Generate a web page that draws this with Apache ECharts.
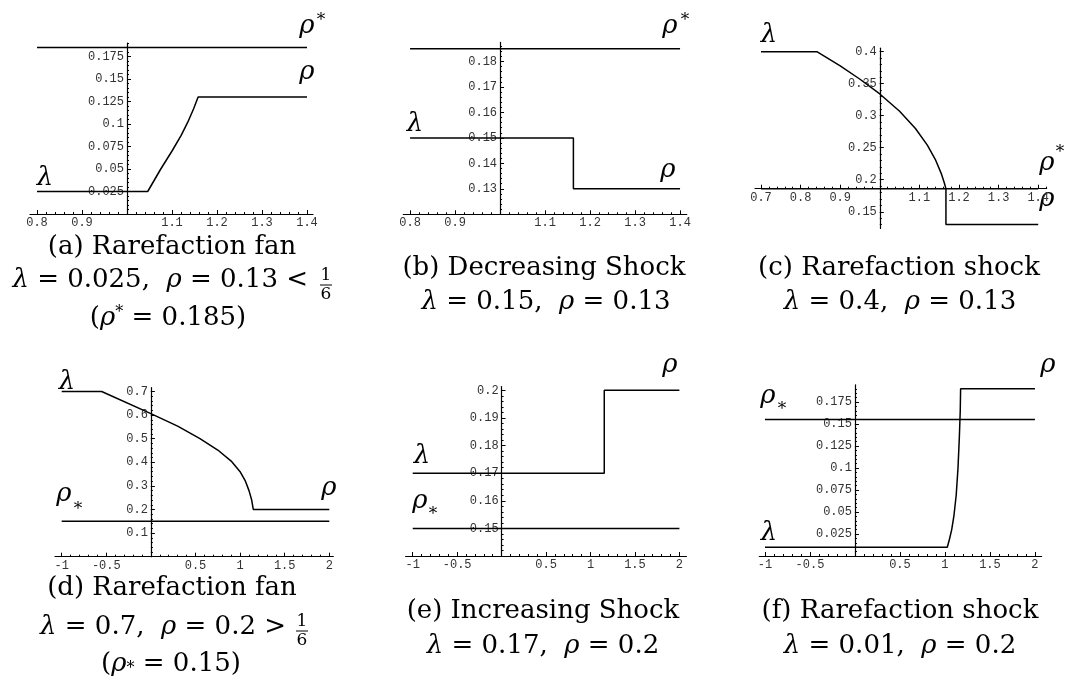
<!DOCTYPE html>
<html lang="en">
<head>
<meta charset="UTF-8">
<title>Riemann problem solutions</title>
<script src="https://cdn.jsdelivr.net/npm/echarts@6.0.0/dist/echarts.min.js"></script>
<style>html,body{margin:0;background:#fff;}</style>
</head>
<body>
<div id="main" style="width:1070px;height:688px;"></div>
<script>
// (a) rarefaction fan
var aX = [0.8, 1.046, 1.075, 1.1, 1.12, 1.135, 1.148, 1.158, 1.4];
var aRho = [0.025, 0.025, 0.05, 0.07, 0.087, 0.102, 0.117, 0.13, 0.13];
var aStarX = [0.8, 1.4];
var aStar = [0.185, 0.185];
var aXTicks = [0.8, 0.9, 1.1, 1.2, 1.3, 1.4];
var aYTicks = [0.025, 0.05, 0.075, 0.1, 0.125, 0.15, 0.175];

// (b) decreasing shock
var bX = [0.8, 1.163, 1.163, 1.4];
var bRho = [0.15, 0.15, 0.13, 0.13];
var bStarX = [0.8, 1.4];
var bStar = [0.185, 0.185];
var bXTicks = [0.8, 0.9, 1.1, 1.2, 1.3, 1.4];
var bYTicks = [0.13, 0.14, 0.15, 0.16, 0.17, 0.18];

// (c) rarefaction shock
var cX = [0.7, 0.841, 0.9, 0.95, 1.0, 1.05, 1.09, 1.12, 1.14, 1.155, 1.163, 1.167, 1.167, 1.4];
var cRho = [0.4, 0.4, 0.378, 0.357, 0.334, 0.307, 0.28, 0.254, 0.232, 0.21, 0.195, 0.186, 0.13, 0.13];
var cStarX = [0.7, 1.4];
var cStar = [0.186, 0.186];
var cXTicks = [0.7, 0.8, 0.9, 1.1, 1.2, 1.3, 1.4];
var cYTicks = [0.15, 0.2, 0.25, 0.3, 0.35, 0.4];

// (d) rarefaction fan
var dX = [-1, -0.552, 0, 0.3, 0.55, 0.75, 0.9, 1.0, 1.06, 1.1, 1.13, 1.148, 2];
var dRho = [0.7, 0.7, 0.606, 0.553, 0.5, 0.452, 0.405, 0.36, 0.32, 0.28, 0.24, 0.2, 0.2];
var dStarX = [-1, 2];
var dStar = [0.15, 0.15];
var dXTicks = [-1, -0.5, 0.5, 1, 1.5, 2];
var dYTicks = [0.1, 0.2, 0.3, 0.4, 0.5, 0.6, 0.7];

// (e) increasing shock
var eX = [-1, 1.155, 1.155, 2];
var eRho = [0.17, 0.17, 0.2, 0.2];
var eStarX = [-1, 2];
var eStar = [0.15, 0.15];
var eXTicks = [-1, -0.5, 0.5, 1, 1.5, 2];
var eYTicks = [0.15, 0.16, 0.17, 0.18, 0.19, 0.2];

// (f) rarefaction shock
var fX = [-1, 1.026, 1.05, 1.075, 1.1, 1.125, 1.145, 1.16, 1.17, 1.174, 2];
var fRho = [0.01, 0.01, 0.019, 0.03, 0.046, 0.069, 0.1, 0.135, 0.165, 0.19, 0.19];
var fStarX = [-1, 2];
var fStar = [0.155, 0.155];
var fXTicks = [-1, -0.5, 0.5, 1, 1.5, 2];
var fYTicks = [0.025, 0.05, 0.075, 0.1, 0.125, 0.15, 0.175];

var panels = [
    {box: {left: 30, top: 43, width: 283, height: 171}, x: [0.7844, 1.4133], y: [0, 0.19], cross: [1, 0],
     xMinor: 0.02, yMinor: 0.005, xT: aXTicks, yT: aYTicks, xs: aX, ys: aRho, sx: aStarX, sy: aStar},
    {box: {left: 403.3, top: 42.4, width: 283.5, height: 171.9}, x: [0.785, 1.415], y: [0.12, 0.1875], cross: [1, 0.12],
     xMinor: 0.02, yMinor: 0.002, xT: bXTicks, yT: bYTicks, xs: bX, ys: bRho, sx: bStarX, sy: bStar},
    {box: {left: 755, top: 48.2, width: 291.6, height: 180.2}, x: [0.6848, 1.4212], y: [0.124, 0.4055], cross: [1, 0.186],
     xMinor: 0.02, yMinor: 0.01, xT: cXTicks, yT: cYTicks, xs: cX, ys: cRho, sx: cStarX, sy: cStar},
    {box: {left: 55, top: 387.7, width: 278.3, height: 169}, x: [-1.075, 2.045], y: [0, 0.716], cross: [0, 0],
     xMinor: 0.1, yMinor: 0.02, xT: dXTicks, yT: dYTicks, xs: dX, ys: dRho, sx: dStarX, sy: dStar},
    {box: {left: 405.6, top: 386.5, width: 280.9, height: 169.5}, x: [-1.08, 2.08], y: [0.14, 0.2014], cross: [0, 0.14],
     xMinor: 0.1, yMinor: 0.002, xT: eXTicks, yT: eYTicks, xs: eX, ys: eRho, sx: eStarX, sy: eStar},
    {box: {left: 759.3, top: 384.8, width: 282.3, height: 171.2}, x: [-1.063, 2.074], y: [0, 0.1945], cross: [0, 0],
     xMinor: 0.1, yMinor: 0.005, xT: fXTicks, yT: fYTicks, xs: fX, ys: fRho, sx: fStarX, sy: fStar}
];

function steps(lo, hi, step) {
    var out = [];
    for (var k = Math.ceil(lo / step - 1e-9); k * step <= hi + 1e-9; k++) {
        out.push(+(k * step).toFixed(6));
    }
    return out;
}

function pairs(xs, ys) {
    return xs.map(function (x, i) { return [x, ys[i]]; });
}

var tickFont = {fontFamily: '"Liberation Mono", monospace', fontSize: 12, color: '#333'};
var grids = [], xAxes = [], yAxes = [], series = [];

panels.forEach(function (p, i) {
    grids.push({left: p.box.left, top: p.box.top, width: p.box.width, height: p.box.height,
                containLabel: false, outerBoundsMode: 'none'});
    // axes cross inside the plot, like Mathematica's default
    var yOff = -(p.cross[0] - p.x[0]) / (p.x[1] - p.x[0]) * p.box.width;
    var xOff = -(p.cross[1] - p.y[0]) / (p.y[1] - p.y[0]) * p.box.height;
    var common = {type: 'value', gridIndex: i, splitLine: {show: false}};
    xAxes.push(Object.assign({}, common, {
        min: p.x[0], max: p.x[1], position: 'bottom', offset: xOff,
        axisLine: {show: true, onZero: false, lineStyle: {color: '#000', width: 1.2}},
        axisTick: {show: true, inside: true, length: 4, customValues: p.xT, lineStyle: {color: '#000'}},
        axisLabel: Object.assign({show: true, margin: 3, customValues: p.xT,
            formatter: function (v) { return String(+v.toFixed(6)); }}, tickFont)
    }));
    xAxes.push(Object.assign({}, common, {
        min: p.x[0], max: p.x[1], position: 'bottom', offset: xOff,
        axisLine: {show: false, onZero: false},
        axisTick: {show: true, inside: true, length: 2, customValues: steps(p.x[0], p.x[1], p.xMinor), lineStyle: {color: '#000'}},
        axisLabel: {show: false}
    }));
    yAxes.push(Object.assign({}, common, {
        min: p.y[0], max: p.y[1], position: 'left', offset: yOff,
        axisLine: {show: true, onZero: false, lineStyle: {color: '#000', width: 1.2}},
        axisTick: {show: true, inside: true, length: 4, customValues: p.yT, lineStyle: {color: '#000'}},
        axisLabel: Object.assign({show: true, margin: 3, customValues: p.yT,
            formatter: function (v) { return String(+v.toFixed(6)); }}, tickFont)
    }));
    yAxes.push(Object.assign({}, common, {
        min: p.y[0], max: p.y[1], position: 'left', offset: yOff,
        axisLine: {show: false, onZero: false},
        axisTick: {show: true, inside: true, length: 2, customValues: steps(p.y[0], p.y[1], p.yMinor), lineStyle: {color: '#000'}},
        axisLabel: {show: false}
    }));
    var line = {type: 'line', xAxisIndex: 2 * i, yAxisIndex: 2 * i, symbol: 'none', silent: true,
                lineStyle: {color: '#000', width: 1.5}};
    series.push(Object.assign({}, line, {data: pairs(p.xs, p.ys)}));
    series.push(Object.assign({}, line, {data: pairs(p.sx, p.sy)}));
});

// greek annotations next to the curves
var greek = 'italic 26px "DejaVu Serif"';
function sym(txt, x, y) {
    return {type: 'text', x: x, y: y, style: {text: txt, font: greek, fill: '#000',
            align: 'center', textAlign: 'center', verticalAlign: 'middle', textVerticalAlign: 'middle'}};
}
function star(x, y) {
    return {type: 'text', x: x, y: y, style: {text: '*', font: '17px "DejaVu Serif"', fill: '#000',
            align: 'center', textAlign: 'center', verticalAlign: 'middle', textVerticalAlign: 'middle'}};
}
var marks = [
    sym('ρ', 307, 26), star(321, 21), sym('ρ', 307, 72), sym('λ', 45, 178),
    sym('ρ', 670, 26), star(685, 21), sym('ρ', 668, 170), sym('λ', 415, 124),
    sym('λ', 769, 35), sym('ρ', 1047, 163), star(1060, 153), sym('ρ', 1047, 199),
    sym('λ', 67, 382), sym('ρ', 64, 494), star(78, 510), sym('ρ', 329, 488),
    sym('ρ', 670, 365), sym('λ', 422, 456), sym('ρ', 420, 501), star(433, 515),
    sym('ρ', 1048, 365), sym('ρ', 768, 396), star(782, 410), sym('λ', 769, 533)
];

// captions
var capFont = '26px "DejaVu Serif"';
var rich = {
    i: {fontStyle: 'italic', fontFamily: 'DejaVu Serif', fontSize: 26},
    sup: {fontFamily: 'DejaVu Serif', fontSize: 16, verticalAlign: 'top', padding: [0, 0, 10, 0]},
    sub: {fontFamily: 'DejaVu Serif', fontSize: 16, verticalAlign: 'bottom', padding: [10, 0, 0, 0]}
};
function cap(txt, x, y, align) {
    return {type: 'text', x: x, y: y, style: {text: txt, font: capFont, fill: '#000', rich: rich,
            align: align || 'center', textAlign: align || 'center', verticalAlign: 'middle', textVerticalAlign: 'middle'}};
}
function frac(x, y) {
    return {type: 'group', x: x, y: y, children: [
        {type: 'text', x: 0, y: -9, style: {text: '1', font: '17px "DejaVu Serif"', fill: '#000',
            align: 'center', textAlign: 'center', verticalAlign: 'middle', textVerticalAlign: 'middle'}},
        {type: 'line', shape: {x1: -6, y1: 0, x2: 6, y2: 0}, style: {stroke: '#000', lineWidth: 1}},
        {type: 'text', x: 0, y: 10, style: {text: '6', font: '17px "DejaVu Serif"', fill: '#000',
            align: 'center', textAlign: 'center', verticalAlign: 'middle', textVerticalAlign: 'middle'}}
    ]};
}
var captions = [
    cap('(a) Rarefaction fan', 172, 247),
    cap('{i|λ} = 0.025,  {i|ρ} = 0.13 <', 308, 280, 'right'), frac(326, 285),
    cap('({i|ρ}{sup|*} = 0.185)', 168, 318),
    cap('(b) Decreasing Shock', 544, 268),
    cap('{i|λ} = 0.15,  {i|ρ} = 0.13', 546, 302),
    cap('(c) Rarefaction shock', 899, 268),
    cap('{i|λ} = 0.4,  {i|ρ} = 0.13', 900, 302),
    cap('(d) Rarefaction fan', 172, 588),
    cap('{i|λ} = 0.7,  {i|ρ} = 0.2 >', 286, 627, 'right'), frac(302, 631),
    cap('({i|ρ}{sub|*} = 0.15)', 171, 664),
    cap('(e) Increasing Shock', 543, 611),
    cap('{i|λ} = 0.17,  {i|ρ} = 0.2', 543, 646),
    cap('(f) Rarefaction shock', 900, 611),
    cap('{i|λ} = 0.01,  {i|ρ} = 0.2', 900, 646)
];

var option = {
    animation: false,
    backgroundColor: '#fff',
    grid: grids,
    xAxis: xAxes,
    yAxis: yAxes,
    series: series,
    graphic: marks.concat(captions)
};

var myChart = echarts.init(document.getElementById('main'));
myChart.setOption(option);
</script>
</body>
</html>
